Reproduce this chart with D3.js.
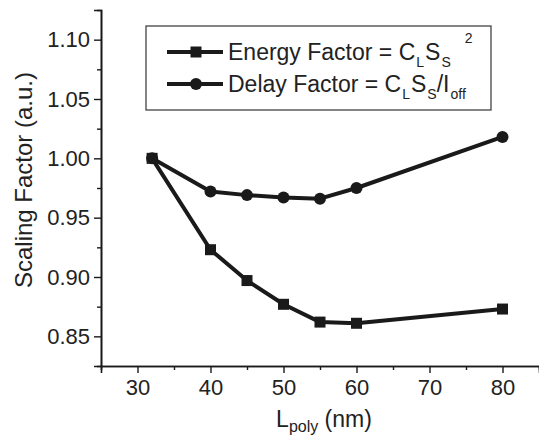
<!DOCTYPE html>
<html>
<head>
<meta charset="utf-8">
<script src="https://cdn.jsdelivr.net/npm/d3@7"></script>
<style>
  html, body { margin: 0; padding: 0; background: #fff; }
  svg { display: block; font-family: "Liberation Sans", Arial, sans-serif; }
</style>
</head>
<body>
<svg id="chart" width="539" height="436"></svg>
<script>
// Scaling factor vs. gate length

// Data
const lpoly = [32, 40, 45, 50, 55, 60, 80];
const energyFactor = [1.000, 0.923, 0.897, 0.877, 0.862, 0.861, 0.873];
const delayFactor = [1.000, 0.972, 0.969, 0.967, 0.966, 0.975, 1.018];

const xTicks = [30, 40, 50, 60, 70, 80];
const xMinorTicks = [35, 45, 55, 65, 75];
const yTicks = [0.85, 0.90, 0.95, 1.00, 1.05, 1.10];
const yMinorTicks = [0.875, 0.925, 0.975, 1.025, 1.075];

const ink = "#1a1a1a";
const textColor = "#222";

const svg = d3.select("#chart");

// Scales
const x = d3.scaleLinear().domain([25, 85]).range([101, 539]);
const y = d3.scaleLinear().domain([0.825, 1.125]).range([366, 10]);

// Axes
const yAxis = d3.axisLeft(y).tickValues(yTicks).tickSize(7).tickPadding(4)
  .tickFormat(d3.format(".2f"));
const yMinor = d3.axisLeft(y).tickValues(yMinorTicks).tickSize(4).tickFormat("");
const xAxis = d3.axisBottom(x).tickValues(xTicks).tickSize(7).tickPadding(6)
  .tickFormat(d3.format("d"));
const xMinor = d3.axisBottom(x).tickValues(xMinorTicks).tickSize(4).tickFormat("");

function styleAxis(g) {
  g.select(".domain").attr("stroke", ink).attr("stroke-width", 1.6);
  g.selectAll(".tick line").attr("stroke", ink).attr("stroke-width", 1.4);
  g.selectAll(".tick text")
    .attr("fill", textColor)
    .attr("font-size", 22)
    .attr("font-family", "Liberation Sans, Arial, sans-serif");
}

svg.append("g").attr("transform", "translate(101,0)").call(yMinor).call(styleAxis);
svg.append("g").attr("transform", "translate(101,0)").call(yAxis).call(styleAxis);
svg.append("g").attr("transform", "translate(0,366)").call(xMinor).call(styleAxis);
svg.append("g").attr("transform", "translate(0,366)").call(xAxis).call(styleAxis);

// Axis titles
svg.append("text")
  .attr("transform", "translate(32,180) rotate(-90)")
  .attr("text-anchor", "middle")
  .attr("font-size", 24)
  .attr("fill", textColor)
  .text("Scaling Factor (a.u.)");

const xTitle = svg.append("text")
  .attr("x", 324)
  .attr("y", 427)
  .attr("text-anchor", "middle")
  .attr("font-size", 23)
  .attr("fill", textColor);
xTitle.append("tspan").text("L");
xTitle.append("tspan").attr("font-size", 16).attr("dy", 5).text("poly");
xTitle.append("tspan").attr("dy", -5).text(" (nm)");

// Series
const line = d3.line().x(d => x(d[0])).y(d => y(d[1]));
const delayPts = lpoly.map((v, i) => [v, delayFactor[i]]);
const energyPts = lpoly.map((v, i) => [v, energyFactor[i]]);

svg.append("path")
  .attr("d", line(delayPts))
  .attr("fill", "none")
  .attr("stroke", ink)
  .attr("stroke-width", 4)
  .attr("stroke-linejoin", "round");

svg.selectAll(".delay-pt")
  .data(delayPts)
  .join("circle")
  .attr("class", "delay-pt")
  .attr("cx", d => x(d[0]))
  .attr("cy", d => y(d[1]))
  .attr("r", 6)
  .attr("fill", ink);

svg.append("path")
  .attr("d", line(energyPts))
  .attr("fill", "none")
  .attr("stroke", ink)
  .attr("stroke-width", 4)
  .attr("stroke-linejoin", "round");

const sq = 11;
svg.selectAll(".energy-pt")
  .data(energyPts)
  .join("rect")
  .attr("class", "energy-pt")
  .attr("x", d => x(d[0]) - sq / 2)
  .attr("y", d => y(d[1]) - sq / 2)
  .attr("width", sq)
  .attr("height", sq)
  .attr("fill", ink);

// Legend
const legend = svg.append("g");
legend.append("rect")
  .attr("x", 146).attr("y", 26)
  .attr("width", 345).attr("height", 84)
  .attr("fill", "#fff")
  .attr("stroke", "#444")
  .attr("stroke-width", 1.3);

const rows = [
  { y: 52, marker: "square" },
  { y: 84, marker: "circle" }
];

rows.forEach(r => {
  legend.append("line")
    .attr("x1", 167).attr("x2", 223)
    .attr("y1", r.y).attr("y2", r.y)
    .attr("stroke", ink).attr("stroke-width", 4);
  if (r.marker === "square") {
    legend.append("rect")
      .attr("x", 196 - 5.5).attr("y", r.y - 5.5)
      .attr("width", 11).attr("height", 11)
      .attr("fill", ink);
  } else {
    legend.append("circle")
      .attr("cx", 196).attr("cy", r.y).attr("r", 6)
      .attr("fill", ink);
  }
});

const t1 = legend.append("text")
  .attr("x", 228).attr("y", 60)
  .attr("font-size", 23)
  .attr("fill", textColor);
t1.append("tspan").text("Energy Factor = C");
t1.append("tspan").attr("font-size", 14).attr("dx", 1).attr("dy", 7).text("L");
t1.append("tspan").attr("dx", 1).attr("dy", -7).text("S");
t1.append("tspan").attr("font-size", 14).attr("dx", 1).attr("dy", 7).text("S");
t1.append("tspan").attr("font-size", 14).attr("dx", 14).attr("dy", -24).text("2");

const t2 = legend.append("text")
  .attr("x", 228).attr("y", 92)
  .attr("font-size", 23)
  .attr("fill", textColor);
t2.append("tspan").text("Delay Factor = C");
t2.append("tspan").attr("font-size", 14).attr("dx", 1).attr("dy", 7).text("L");
t2.append("tspan").attr("dx", 1).attr("dy", -7).text("S");
t2.append("tspan").attr("font-size", 14).attr("dx", 1).attr("dy", 7).text("S");
t2.append("tspan").attr("dy", -7).text("/I");
t2.append("tspan").attr("font-size", 14).attr("dx", 1).attr("dy", 7).text("off");
</script>
</body>
</html>
